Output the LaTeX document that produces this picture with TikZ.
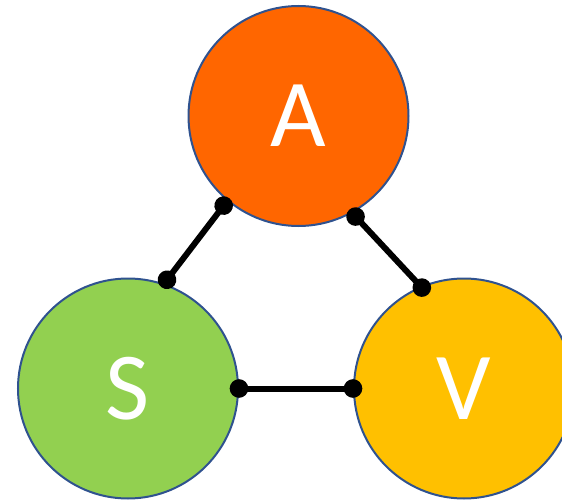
\documentclass[tikz,border=0pt]{standalone}
\usepackage{fontspec}
\setmainfont{Carlito}
\usetikzlibrary{arrows.meta}

\definecolor{aorange}{HTML}{FF6600}
\definecolor{sgreen}{HTML}{92D050}
\definecolor{vgold}{HTML}{FFC000}
\definecolor{ringblue}{HTML}{2F528F}

\begin{document}
\begin{tikzpicture}[x=1pt, y=1pt,
            every node/.style={draw=ringblue, line width=2pt, circle, minimum size=220pt,
                               inner sep=0pt, text=white, font=\fontsize{96}{96}\selectfont},
            link/.style={draw, line width=6pt, {Circle[length=18.5pt]}-{Circle[length=18.5pt]},
                         shorten <=-9.25pt, shorten >=-9.25pt}]
        \useasboundingbox (0,0) rectangle (562,499);

        \node[fill=aorange](nodeA) at (298.5,383) {A};
        \node[fill=sgreen](nodeS) at (128,110.5) {S};
        \node[fill=vgold](nodeV) at (464,110.5) {V};

        % links between the three circles
        \draw[link, shorten <=-3.5pt, shorten >=-4.5pt] (nodeA.230) -- (nodeS.71);
        \draw[link, shorten <=-4.5pt, shorten >=-11pt] (nodeA.299) -- (nodeV.113);
        \draw[link] (nodeS.east) -- (nodeV.west);
\end{tikzpicture}
\end{document}
